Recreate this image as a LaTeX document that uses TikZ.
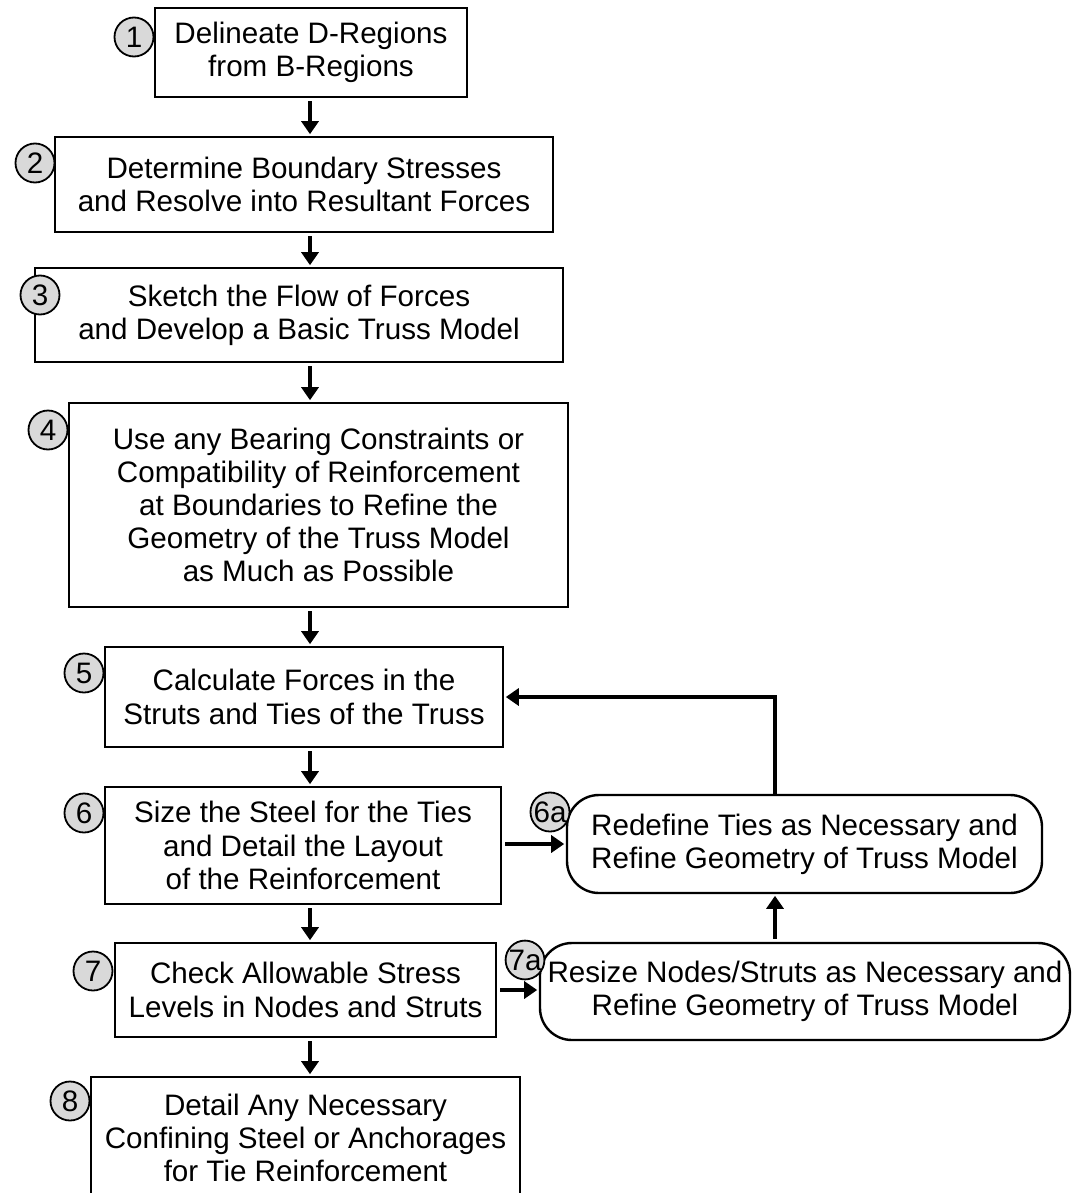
\documentclass[tikz,border=0pt]{standalone}
\usepackage{fontspec}
\setmainfont{Liberation Sans}
\usetikzlibrary{arrows.meta,calc}
\begin{document}
\begin{tikzpicture}[x=0.5pt,y=-0.5pt,
  every node/.style={font=\fontsize{14.8}{16.6}\selectfont},
  stepbox/.style={draw, line width=1.2pt, align=center, inner sep=0pt},
  loopbox/.style={draw, line width=1.2pt, align=center, inner sep=0pt, rounded corners=16pt},
  badge/.style={circle, draw, line width=0.9pt, fill=black!15, inner sep=0pt, minimum size=19.5pt},
  flow/.style={line width=1.9pt, -{Triangle[length=6.5pt,width=8.5pt]}, shorten <=1.5pt, shorten >=0.8pt},
]
\useasboundingbox (0,0) rectangle (1072,1193);

% main sequence of steps
\node[stepbox, minimum width=156pt,   minimum height=44.5pt] (b1) at (311,52.5)  {Delineate D-Regions\\from B-Regions};
\node[stepbox, minimum width=249pt,   minimum height=47.5pt] (b2) at (304,184.5) {Determine Boundary Stresses\\and Resolve into Resultant Forces};
\node[stepbox, minimum width=264pt,   minimum height=47pt]   (b3) at (299,315)   {Sketch the Flow of Forces\\and Develop a Basic Truss Model};
\node[stepbox, minimum width=249.5pt, minimum height=102pt]  (b4) at (318.5,505) {Use any Bearing Constraints or\\Compatibility of Reinforcement\\at Boundaries to Refine the\\Geometry of the Truss Model\\as Much as Possible};
\node[stepbox, minimum width=199pt,   minimum height=50pt]   (b5) at (304,697)   {Calculate Forces in the\\Struts and Ties of the Truss};
\node[stepbox, minimum width=198pt,   minimum height=58.5pt] (b6) at (303,845.5) {Size the Steel for the Ties\\and Detail the Layout\\of the Reinforcement};
\node[stepbox, minimum width=190.5pt, minimum height=47pt]   (b7) at (305.5,990) {Check Allowable Stress\\Levels in Nodes and Struts};
\node[stepbox, minimum width=214.5pt, minimum height=61pt]   (b8) at (305.5,1138) {Detail Any Necessary\\Confining Steel or Anchorages\\for Tie Reinforcement};

% revision loops
\node[loopbox, minimum width=237.5pt, minimum height=49pt]   (r6) at (804.5,844) {Redefine Ties as Necessary and\\Refine Geometry of Truss Model};
\node[loopbox, minimum width=265pt,   minimum height=48.5pt] (r7) at (805,991.5) {Resize Nodes/Struts as Necessary and\\Refine Geometry of Truss Model};

% connectors
\coordinate (ax) at (310,0);
\coordinate (fx) at (775,0);
\draw[flow] (ax |- b1.south) -- (ax |- b2.north);
\draw[flow] (ax |- b2.south) -- (ax |- b3.north);
\draw[flow] (ax |- b3.south) -- (ax |- b4.north);
\draw[flow] (ax |- b4.south) -- (ax |- b5.north);
\draw[flow] (ax |- b5.south) -- (ax |- b6.north);
\draw[flow] (ax |- b6.south) -- (ax |- b7.north);
\draw[flow] (ax |- b7.south) -- (ax |- b8.north);
\draw[flow] (b6.east |- r6.west) -- (r6.west);
\draw[flow] (b7.east) -- (b7.east -| r7.west);
\draw[flow] (fx |- r7.north) -- (fx |- r6.south);
\draw[flow, shorten <=0pt] (fx |- r6.north) -- (fx |- b5.east) -- (b5.east);

% step numbers
\node[badge] (n1)  at (134,37)   {1};
\node[badge] (n2)  at (35,163)   {2};
\node[badge] (n3)  at (40,295)   {3};
\node[badge] (n4)  at (48,430)   {4};
\node[badge] (n5)  at (84,673)   {5};
\node[badge] (n6)  at (84,813)   {6};
\node[badge, minimum size=19pt] (n6a) at (550,812)  {6a};
\node[badge] (n7)  at (93,971)   {7};
\node[badge, minimum size=19pt] (n7a) at (525,960)  {7a};
\node[badge] (n8)  at (70,1101)  {8};
\end{tikzpicture}
\end{document}
